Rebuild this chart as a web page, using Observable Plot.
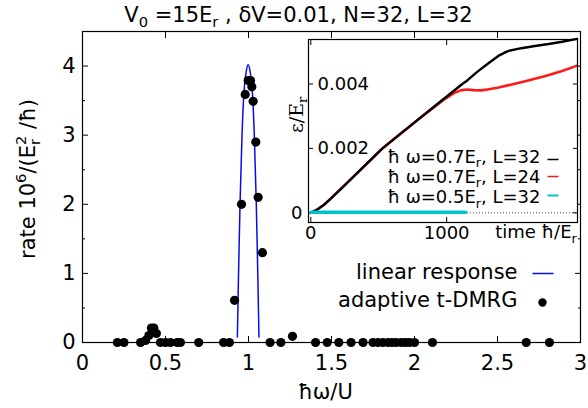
<!DOCTYPE html>
<html><head><meta charset="utf-8">
<script src="https://cdn.jsdelivr.net/npm/d3@7"></script>
<script src="https://cdn.jsdelivr.net/npm/@observablehq/plot@0.6"></script>
<style>
body{margin:0;background:#fff;}
#wrap{position:relative;width:588px;height:408px;overflow:hidden;background:#fff;}
#wrap svg{position:absolute;overflow:visible;}
</style></head><body><div id="wrap"></div>
<script>
// ---------- text ----------
const title = "V_{0} =15E_{r} , δV=0.01, N=32, L=32";
const xLabel = "ħω/U";
const yLabel = "rate 10^{6}/(E_{r}^{2} /ħ)";
const legendLabels = ["linear response", "adaptive t-DMRG"];
const insetYLabel = "ε/E_{r}";
const insetXLabel = "time ħ/E_{r}";
const insetLegend = ["ħ ω=0.7E_{r}, L=32", "ħ ω=0.7E_{r}, L=24", "ħ ω=0.5E_{r}, L=32"];

// ---------- main ticks ----------
const xTicks = [0, 0.5, 1, 1.5, 2, 2.5, 3];
const yTicks = [0, 1, 2, 3, 4];
const yMinorTicks = [0.5, 1.5, 2.5, 3.5];

// ---------- adaptive t-DMRG points ----------
const dmrgX = [0.21,0.25,0.35,0.38,0.40,0.415,0.43,0.445,0.47,0.50,0.53,0.57,0.59,0.70,0.85,0.885,
  0.916,0.958,0.98,0.998,1.012,1.02,1.028,1.044,1.058,1.084,1.13,1.195,1.265,
  1.404,1.474,1.544,1.618,1.69,1.75,1.78,1.81,1.84,1.865,1.89,1.92,1.945,1.97,2.0,2.108,2.673,2.813];
const dmrgY = [0,0,0,0.03,0.10,0.21,0.21,0.13,0,0,0,0,0,0,0,0,
  0.61,2.0,3.59,3.79,3.79,3.70,3.49,2.90,2.10,1.30,0,0,0.09,
  0,0,0,0,0,0,0,0,0,0,0,0,0,0,0,0,0,0];

// ---------- linear response curve ----------
const lrX = [0.933,0.940,0.949,0.961,0.972,0.985,0.998,1.011,1.024,1.035,1.047,1.056,1.063];
const lrY = [0.08,1.0,2.0,3.0,3.6,3.9,4.02,3.9,3.6,3.0,2.0,1.0,0.08];

// ---------- inset ----------
const insetXTicks = [0, 1000];
const insetYTicks = [0, 0.002, 0.004];
const l32T = [0,50,100,147,250,350,450,527,650,800,950,1115,1152,1220,1300,1380,1450,1550,1650,1750,1850,1960];
const l32V = [0,0.00011,0.00026,0.00044,0.00086,0.00127,0.00168,0.002,0.00242,0.00293,0.00344,0.004,0.00411,0.00436,0.00462,0.00487,0.00502,0.00511,0.00518,0.00524,0.00531,0.0054];
const l24T = [0,50,100,147,250,350,450,527,650,800,950,1000,1050,1103,1150,1200,1250,1300,1373,1495,1600,1740,1850,1960];
const l24V = [0,0.00011,0.00026,0.00044,0.00086,0.00127,0.00168,0.002,0.00242,0.00293,0.00342,0.00357,0.00371,0.0038,0.00383,0.00381,0.0038,0.00383,0.00388,0.004,0.00411,0.00426,0.0044,0.00457];
const w05T = [0,200,400,600,800,1000,1140];
const w05V = [0.00002,0.00002,0.00002,0.00002,0.00002,0.00002,0.00002];

const BLUE = "#0a0aee", RED = "#ff1a1a", CYAN = "#00c4c8";

const dmrg = dmrgX.map((x, i) => ({x, y: dmrgY[i]}));
const lr = lrX.map((x, i) => ({x, y: lrY[i]}));
const s32 = l32T.map((t, i) => ({t, v: l32V[i]}));
const s24 = l24T.map((t, i) => ({t, v: l24V[i]}));
const s05 = w05T.map((t, i) => ({t, v: w05V[i]}));

const lineSym = (h) => ({draw(ctx) { ctx.moveTo(-h, 0); ctx.lineTo(h, 0); }});
const blank = () => "";
const M = {lineAnchor: "middle"};

const main = Plot.plot({
  width: 588, height: 408,
  marginTop: 31, marginRight: 8, marginBottom: 66, marginLeft: 82,
  x: {domain: [0, 3]},
  y: {domain: [0, 4.5]},
  style: {fontFamily: "DejaVu Sans, sans-serif", fontSize: "21px", color: "black", background: "transparent"},
  marks: [
    Plot.axisX({ticks: xTicks, tickSize: -6, tickPadding: 19, tickFormat: d => String(d), label: null, fontSize: 21}),
    Plot.axisX({anchor: "top", ticks: xTicks, tickSize: -6, tickFormat: blank, label: null}),
    Plot.axisY({ticks: yTicks, tickSize: -6, tickPadding: 13, tickFormat: d => String(d), label: null, fontSize: 21}),
    Plot.axisY({ticks: yMinorTicks, tickSize: -3, tickFormat: blank, label: null}),
    Plot.axisY({anchor: "right", ticks: yTicks, tickSize: -6, tickFormat: blank, label: null}),
    Plot.axisY({anchor: "right", ticks: yMinorTicks, tickSize: -3, tickFormat: blank, label: null}),
    Plot.frame({stroke: "black", strokeWidth: 1.2}),
    Plot.line(lr, {x: "x", y: "y", stroke: BLUE, strokeWidth: 1.5, curve: "monotone-x"}),
    Plot.dot(dmrg, {x: "x", y: "y", r: 4.6, fill: "black"}),
    Plot.text([title], {...M, frameAnchor: "top", textAnchor: "middle", dx: -33, dy: -16, fontSize: 21}),
    Plot.text([xLabel], {...M, frameAnchor: "bottom", textAnchor: "middle", dx: -6, dy: 50, fontSize: 21}),
    Plot.text([yLabel], {...M, frameAnchor: "left", textAnchor: "middle", rotate: -90, dx: -54, dy: -8, fontSize: 21}),
    Plot.text([legendLabels[0]], {...M, frameAnchor: "top-right", textAnchor: "end", dx: -63, dy: 241, fontSize: 21}),
    Plot.text([legendLabels[1]], {...M, frameAnchor: "top-right", textAnchor: "end", dx: -63, dy: 269, fontSize: 21}),
    Plot.dot([legendLabels[0]], {frameAnchor: "top-right", dx: -37.5, dy: 242, symbol: lineSym(10.5), fill: "none", stroke: BLUE, strokeWidth: 1.5}),
    Plot.dot([legendLabels[1]], {frameAnchor: "top-right", dx: -38, dy: 271, r: 4.2, fill: "black"})
  ]
});

const inset = Plot.plot({
  width: 308, height: 218,
  marginTop: 11, marginRight: 11, marginBottom: 24, marginLeft: 28,
  x: {domain: [-17, 1963]},
  y: {domain: [-0.0003, 0.00538]},
  style: {fontFamily: "DejaVu Sans, sans-serif", fontSize: "18px", color: "black", background: "transparent"},
  marks: [
    Plot.frame({fill: "white", stroke: "none"}),
    Plot.ruleY([0], {stroke: "#555", strokeWidth: 1, strokeDasharray: "1,2"}),
    Plot.axisX({ticks: insetXTicks, tickSize: -5, tickPadding: 8.5, tickFormat: d => String(d), label: null, fontSize: 18}),
    Plot.axisX({anchor: "top", ticks: insetXTicks, tickSize: -5, tickFormat: blank, label: null}),
    Plot.axisY({ticks: insetYTicks, tickSize: -5, tickFormat: blank, label: null}),
    Plot.axisY({anchor: "right", ticks: insetYTicks, tickSize: -5, tickFormat: blank, label: null}),
    Plot.axisY({ticks: insetYTicks.slice(1), tickSize: 0, tickPadding: 0, dx: 9, textAnchor: "start", tickFormat: d => String(d), label: null, fontSize: 18}),
    Plot.axisY({ticks: insetYTicks.slice(0, 1), tickSize: 0, tickPadding: 6, tickFormat: d => String(d), label: null, fontSize: 18}),
    Plot.line(s24, {x: "t", y: "v", stroke: RED, strokeWidth: 2.6}),
    Plot.line(s32, {x: "t", y: "v", stroke: "black", strokeWidth: 2.4}),
    Plot.line(s05, {x: "t", y: "v", stroke: CYAN, strokeWidth: 3.5}),
    Plot.frame({stroke: "black", strokeWidth: 1.2}),
    Plot.text([insetXLabel], {...M, frameAnchor: "bottom-right", textAnchor: "end", dy: 10, fontSize: 18}),
    Plot.text([insetYLabel], {...M, frameAnchor: "left", textAnchor: "start", rotate: -90, dx: -12, dy: 2, fontSize: 19, fontFamily: "DejaVu Serif, serif"}),
    Plot.text([insetLegend[0]], {...M, frameAnchor: "top-right", textAnchor: "end", dx: -37, dy: 117.5, fontSize: 18}),
    Plot.text([insetLegend[1]], {...M, frameAnchor: "top-right", textAnchor: "end", dx: -37, dy: 137.5, fontSize: 18}),
    Plot.text([insetLegend[2]], {...M, frameAnchor: "top-right", textAnchor: "end", dx: -37, dy: 158, fontSize: 18}),
    Plot.dot([insetLegend[0]], {frameAnchor: "top-right", dx: -24.5, dy: 120, symbol: lineSym(5.5), fill: "none", stroke: "black", strokeWidth: 1.5}),
    Plot.dot([insetLegend[1]], {frameAnchor: "top-right", dx: -24.5, dy: 137, symbol: lineSym(5.5), fill: "none", stroke: RED, strokeWidth: 1.5}),
    Plot.dot([insetLegend[2]], {frameAnchor: "top-right", dx: -24.5, dy: 156, symbol: lineSym(5.5), fill: "none", stroke: CYAN, strokeWidth: 2})
  ]
});

const wrap = document.getElementById("wrap");
main.style.left = "0px"; main.style.top = "0px";
inset.style.left = "280px"; inset.style.top = "28px";
wrap.appendChild(main);
wrap.appendChild(inset);

// convert _{..} / ^{..} markup into sub/superscript tspans, then re-anchor explicitly
function richify(root) {
  const NS = "http://www.w3.org/2000/svg";
  root.querySelectorAll("text").forEach(t => {
    const s = t.textContent;
    if (!/[_^]\{/.test(s)) return;
    const cs = getComputedStyle(t);
    const F = parseFloat(cs.fontSize) || 16;
    const anchor = cs.textAnchor || "start";
    const re = /_\{([^}]*)\}\^\{([^}]*)\}|_\{([^}]*)\}|\^\{([^}]*)\}|([^_^]+)/g;
    while (t.firstChild) t.removeChild(t.firstChild);
    t.setAttribute("text-anchor", "start");
    t.style.textAnchor = "start";
    let shift = 0, m;
    const spans = [];
    const add = (txt, target, small, dx) => {
      const sp = document.createElementNS(NS, "tspan");
      sp.textContent = txt;
      const d = target - shift;
      if (Math.abs(d) > 1e-6) sp.setAttribute("dy", d.toFixed(2));
      if (dx) sp.setAttribute("dx", dx.toFixed(2));
      if (small) sp.setAttribute("font-size", (0.7 * F).toFixed(2) + "px");
      shift = target;
      t.appendChild(sp);
      spans.push(sp);
      return sp;
    };
    while ((m = re.exec(s))) {
      if (m[1] !== undefined) {
        const a = add(m[1], 0.25 * F, true);
        const w = a.getComputedTextLength();
        add(m[2], -0.42 * F, true, -w);
      } else if (m[3] !== undefined) add(m[3], 0.25 * F, true);
      else if (m[4] !== undefined) add(m[4], -0.42 * F, true);
      else add(m[5], 0, false);
    }
    const L = t.getBBox().width;
    const k = anchor === "middle" ? 0.5 : anchor === "end" ? 1 : 0;
    if (k && spans.length) spans[0].setAttribute("dx", (-k * L).toFixed(2));
  });
}
richify(main);
richify(inset);
</script>
</body></html>
